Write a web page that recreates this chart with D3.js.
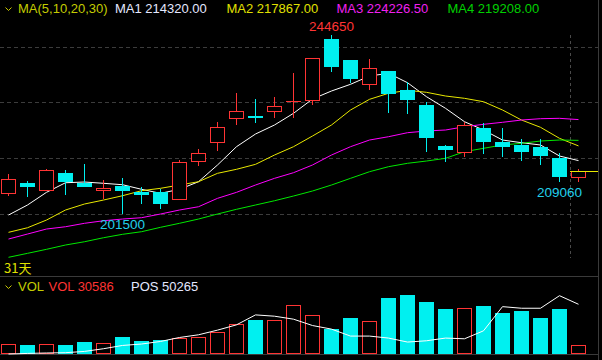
<!DOCTYPE html>
<html><head><meta charset="utf-8">
<script src="https://cdn.jsdelivr.net/npm/d3@7"></script>
<style>html,body{margin:0;padding:0;background:#000;} svg{display:block}</style>
</head><body>
<svg id="c" width="602" height="360"></svg>
<script>
// ---- data (31 daily candles) ----
const opens  = [206250,208910,207050,211320,208910,207050,208260,206660,206660,204880,214050,218570,224440,225090,226130,228590,228780,243680,238610,232650,235960,231300,227750,217840,216230,222190,218810,218090,217600,214950,210190];
const closes = [209800,208010,211980,209220,208010,207700,206980,206080,203910,213910,216080,222360,226300,224610,227500,228710,239020,237000,234100,236610,230470,228950,219780,216880,222840,218810,217530,216400,215430,210430,211730];
const highs  = [211080,209390,212290,212050,213500,209630,210120,207940,207390,214460,217120,223640,230640,229190,229680,235470,239020,244650,238610,238850,235960,233370,228470,218090,223710,223400,222190,219530,219530,216080,212290];
const lows   = [205840,205600,207050,206010,208010,205040,201500,203910,202700,204880,213090,216710,222990,223470,224610,224680,227820,235720,233130,231370,225890,225570,216400,213980,215260,215910,215190,214220,213260,209060,209100];
const ma5    = [201180,203600,206660,208980,209150,208840,208500,207390,206420,207390,209220,213260,217680,220740,222920,225740,229190,231130,232740,234750,235400,233130,229750,226950,223710,221710,219290,218640,218090,215430,214320];
const ma10   = [197000,198110,199970,202390,203840,204800,205840,207050,207630,208430,209220,211250,212220,213420,215670,217680,220260,222920,226540,229120,230570,231300,230810,229920,229360,228540,226540,224120,222360,219700,217867];
const ma20   = [195380,196590,197800,198350,199180,199800,200210,200530,201420,202390,203180,205210,206660,208430,210040,211400,213260,215670,217680,219290,220090,221060,221470,221710,222500,223080,223570,224120,224440,224530,224226.5];
const ma30   = [190970,191930,192900,193940,194730,195700,196520,197150,198210,199180,200210,201420,202560,203600,204630,205770,206980,208430,210040,211640,212850,213670,214220,214870,216470,217290,218090,218500,219050,219290,219208];
const vols   = [33880,30590,33880,28290,40460,36180,56900,43740,44730,53610,56900,73350,99660,113800,112810,161160,129260,84200,120380,109520,186160,195040,172020,149980,152280,159850,135840,143400,120380,149980,30586];
const pos    = [20000,20360,20610,20790,21570,23210,25210,26060,27630,30050,31690,34530,37740,43800,43010,41190,37320,35140,30900,30900,29690,27270,28050,29690,29260,34110,48820,47850,47850,55480,50265];
const maPeriods = [5,10,20,30];
const dayCountLabel = "31天";
// annotated extremes: [index, kind]
const marks = [[17,'high'],[6,'low'],[29,'low']];

// ---- styles ----
const RED = '#ff3434', CYAN = '#00f0f0';
const maColors = ['#ffffff','#e8e800','#ff00ff','#00e800'];
const legColors = ['#e4e8ff','#e0e000','#f020f0','#00d000'];
const FONT = '"Liberation Sans", Arial, sans-serif';

const svg = d3.select('#c');
svg.append('rect').attr('width',602).attr('height',360).attr('fill','#000');

const n = opens.length;
const x = d3.scaleLinear().domain([0, n-1]).range([8.5, 578.5]);
const y = d3.scaleLinear().domain([d3.min(lows), d3.max(highs)]).range([213.7, 35]);

// grid
const gridY = [47.5, 102.5, 158.5, 214.5];
svg.append('g').selectAll('line').data(gridY).join('line')
  .attr('x1',0).attr('x2',598).attr('y1',d=>d).attr('y2',d=>d)
  .attr('stroke','#3c3c3c').attr('stroke-dasharray','4,3');

// vertical divider before last candle
const divX = Math.round(x(n-1) - 9) + 0.5;
svg.append('line').attr('x1',divX).attr('x2',divX).attr('y1',35).attr('y2',258)
  .attr('stroke','#4a4a4a').attr('stroke-dasharray','3,3');

// panel borders
svg.append('line').attr('x1',0).attr('x2',599).attr('y1',276.5).attr('y2',276.5).attr('stroke','#3a3a3a');
svg.append('line').attr('x1',0).attr('x2',599).attr('y1',354.5).attr('y2',354.5).attr('stroke','#3a3a3a');
svg.append('line').attr('x1',598.5).attr('x2',598.5).attr('y1',0).attr('y2',360).attr('stroke','#3a3a3a');

// MA lines
const mas = [ma5, ma10, ma20, ma30];
const line = d3.line().x((d,i)=>x(i)).y(d=>y(d));
svg.append('g').selectAll('path').data(mas).join('path')
  .attr('d', line).attr('fill','none').attr('stroke',(d,i)=>maColors[i]).attr('stroke-width',1);

// candles
const cg = svg.append('g').attr('shape-rendering','crispEdges');
d3.range(n).forEach(i=>{
  const o=opens[i], c=closes[i], up = c>=o;
  const col = up?RED:CYAN;
  const cx = Math.floor(x(i))+0.5;
  const left = Math.round(x(i)-7.5);
  cg.append('line').attr('x1',cx).attr('x2',cx)
    .attr('y1',Math.round(y(highs[i]))).attr('y2',Math.round(y(lows[i])))
    .attr('stroke',col);
  const top = Math.round(y(Math.max(o,c))), bot = Math.round(y(Math.min(o,c)));
  if (bot - top < 2) {
    cg.append('rect').attr('x',left).attr('y',top).attr('width',15).attr('height',1).attr('fill',col);
  } else if (up) {
    cg.append('rect').attr('x',left+0.5).attr('y',top+0.5).attr('width',14).attr('height',bot-top-1)
      .attr('fill','#000').attr('stroke',col);
  } else {
    cg.append('rect').attr('x',left).attr('y',top).attr('width',15).attr('height',bot-top).attr('fill',col);
  }
});

// last price line
const lpY = Math.round(y(closes[n-1]))+0.5;
svg.append('line').attr('x1',divX-0.5).attr('x2',598).attr('y1',lpY).attr('y2',lpY).attr('stroke','#e8e800');

// extreme labels
marks.forEach(([i,k])=>{
  const v = k==='high'?highs[i]:lows[i];
  svg.append('text').attr('x',x(i)).attr('y', k==='high'? y(v)-4.5 : y(v)+15)
    .attr('text-anchor','middle').attr('font-family',FONT).attr('font-size',13.5)
    .attr('fill', k==='high'?RED:'#22d0ea').text(v);
});

// legend (price)
function chevron(cy){
  svg.append('path').attr('d',`M5.5,${cy-1.5} L8.5,${cy+1.5} L11.5,${cy-1.5}`)
    .attr('fill','none').attr('stroke','#c8c800').attr('stroke-width',1);
}
chevron(9);
const leg = svg.append('g').attr('font-family',FONT).attr('font-size',13);
leg.append('text').attr('x',18).attr('y',13).attr('fill','#c4cc00').text(`MA(${maPeriods.join(',')})`);
const legX = [115, 226.5, 336.5, 447.5];
mas.forEach((m,i)=>{
  leg.append('text').attr('x',legX[i]).attr('y',13).attr('fill',legColors[i])
    .text(`MA${i+1} ${m[m.length-1].toFixed(2)}`);
});
svg.append('text').attr('x',4).attr('y',272.5).attr('font-family','"Noto Sans CJK SC", sans-serif')
  .attr('font-size',13).attr('fill','#e0e000').text(dayCountLabel);

// volume panel
const vy = d3.scaleLinear().domain([0, d3.max(vols)]).range([354, 295]);
const py = d3.scaleLinear().domain(d3.extent(pos)).range([354, 295.7]);
const vg = svg.append('g').attr('shape-rendering','crispEdges');
d3.range(n).forEach(i=>{
  const up = closes[i]>=opens[i];
  const left = Math.round(x(i)-7.5);
  const top = Math.round(vy(vols[i]));
  if (up) {
    vg.append('rect').attr('x',left+0.5).attr('y',top+0.5).attr('width',14).attr('height',354-top-1)
      .attr('fill','none').attr('stroke',RED);
  } else {
    vg.append('rect').attr('x',left).attr('y',top).attr('width',15).attr('height',354-top).attr('fill',CYAN);
  }
});
svg.append('path').attr('d', d3.line().x((d,i)=>x(i)).y(d=>py(d))(pos))
  .attr('fill','none').attr('stroke','#ffffff').attr('stroke-width',1);

chevron(287);
const vleg = svg.append('g').attr('font-family',FONT).attr('font-size',13);
vleg.append('text').attr('x',18).attr('y',291).attr('fill','#c4cc00').text('VOL');
vleg.append('text').attr('x',48.5).attr('y',291).attr('fill',RED).text(`VOL ${vols[n-1]}`);
vleg.append('text').attr('x',131).attr('y',291).attr('fill','#e4e8ff').text(`POS ${pos[n-1]}`);
</script>
</body></html>
